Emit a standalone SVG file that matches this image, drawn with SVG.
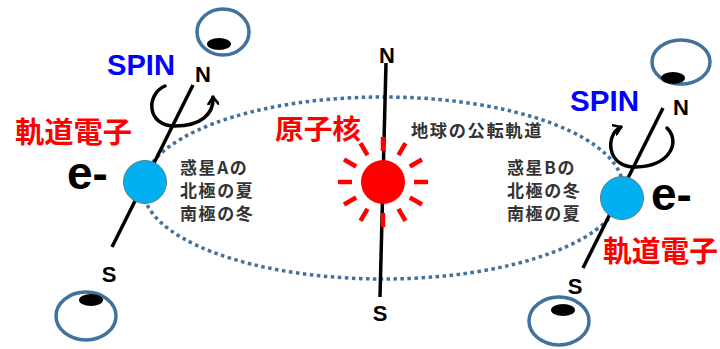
<svg xmlns="http://www.w3.org/2000/svg" width="720" height="349" viewBox="0 0 720 349">
  <defs>
    <style>
      .orbit { fill: none; stroke: #41719C; stroke-width: 3.5; stroke-dasharray: 3.5 3.5; }
      .axis { stroke: #000; stroke-width: 3.5; stroke-linecap: butt; }
      .eye { fill: none; stroke: #41719C; stroke-width: 3.5; }
      .pupil { fill: #000; }
      .planet { fill: #00B0F0; stroke: #5B7F95; stroke-width: 1; }
      .ray { stroke: #FF0000; stroke-width: 4.5; }
      .spin { fill: none; stroke: #000; stroke-width: 3.5; stroke-linecap: round; }
      .pole { font-family: "Liberation Sans", Arial, sans-serif; font-weight: bold; font-size: 22px; fill: #000; }
      .spinlbl { font-family: "Liberation Sans", Arial, sans-serif; font-weight: bold; font-size: 30px; fill: #0000FF; }
      .elec { font-family: "Liberation Sans", Arial, sans-serif; font-weight: bold; font-size: 46px; fill: #000; }
      .red { font-family: "Noto Sans CJK JP", sans-serif; font-weight: bold; fill: #FF0000; }
      .note { font-family: "Noto Sans CJK JP", sans-serif; font-weight: bold; font-size: 17px; letter-spacing: 1.6px; fill: #333; }
    </style>
    <marker id="openArrow" viewBox="0 0 12 12" refX="8" refY="6" markerWidth="12" markerHeight="12" markerUnits="userSpaceOnUse" orient="auto">
      <path d="M1,1 L8,6 L1,11" fill="none" stroke="#000" stroke-width="2.6" stroke-linecap="round" stroke-linejoin="round"/>
    </marker>
  </defs>

  <!-- orbit path and rotation axes -->
  <g id="connectors">
    <ellipse class="orbit" cx="383" cy="188" rx="240" ry="91"/>
    <line class="axis" x1="193" y1="85" x2="112" y2="247"/>
    <line class="axis" x1="386" y1="63" x2="380" y2="297"/>
    <line class="axis" x1="663" y1="108" x2="583" y2="268"/>
  </g>

  <!-- nucleus (sun) -->
  <g id="nucleus">
    <g transform="translate(383,182)">
      <line class="ray" x1="31" y1="0" x2="45" y2="0"/>
      <line class="ray" x1="31" y1="0" x2="45" y2="0" transform="rotate(30)"/>
      <line class="ray" x1="31" y1="0" x2="45" y2="0" transform="rotate(60)"/>
      <line class="ray" x1="31" y1="0" x2="45" y2="0" transform="rotate(90)"/>
      <line class="ray" x1="31" y1="0" x2="45" y2="0" transform="rotate(120)"/>
      <line class="ray" x1="31" y1="0" x2="45" y2="0" transform="rotate(150)"/>
      <line class="ray" x1="31" y1="0" x2="45" y2="0" transform="rotate(180)"/>
      <line class="ray" x1="31" y1="0" x2="45" y2="0" transform="rotate(210)"/>
      <line class="ray" x1="31" y1="0" x2="45" y2="0" transform="rotate(240)"/>
      <line class="ray" x1="31" y1="0" x2="45" y2="0" transform="rotate(270)"/>
      <line class="ray" x1="31" y1="0" x2="45" y2="0" transform="rotate(300)"/>
      <line class="ray" x1="31" y1="0" x2="45" y2="0" transform="rotate(330)"/>
      <circle r="22" fill="#FF0000"/>
    </g>
    <text class="pole" x="387" y="63" text-anchor="middle">N</text>
    <text class="pole" x="380" y="321" text-anchor="middle">S</text>
    <text class="red" x="275" y="139" font-size="27" textLength="86" lengthAdjust="spacingAndGlyphs">原子核</text>
  </g>

  <text class="note" x="411" y="137" textLength="132" lengthAdjust="spacingAndGlyphs">地球の公転軌道</text>

  <!-- planet A (left electron) -->
  <g id="planetA">
    <circle class="planet" cx="145" cy="182" r="21.5"/>
    <path class="spin" d="M165,86 C146,94 146,126 175,126 C201,126 214,114 213,97" marker-end="url(#openArrow)"/>
    <text class="pole" x="203" y="82" text-anchor="middle">N</text>
    <text class="pole" x="109" y="282" text-anchor="middle">S</text>
    <text class="spinlbl" x="107" y="75" textLength="68" lengthAdjust="spacingAndGlyphs">SPIN</text>
    <text class="red" x="15" y="143" font-size="29" textLength="117" lengthAdjust="spacingAndGlyphs">軌道電子</text>
    <text class="elec" x="67" y="189">e-</text>
    <text class="note"><tspan x="180" y="174">惑星Aの</tspan><tspan x="180" y="197">北極の夏</tspan><tspan x="180" y="220">南極の冬</tspan></text>
  </g>

  <!-- planet B (right electron) -->
  <g id="planetB">
    <circle class="planet" cx="622" cy="198" r="21.5"/>
    <path class="spin" d="M667,128 C681,142 670,166 636,167 C606,168 605,134 621,127" marker-end="url(#openArrow)"/>
    <text class="pole" x="681" y="115" text-anchor="middle">N</text>
    <text class="pole" x="575" y="294" text-anchor="middle">S</text>
    <text class="spinlbl" x="570" y="111" textLength="69" lengthAdjust="spacingAndGlyphs">SPIN</text>
    <text class="red" x="603" y="262" font-size="29" textLength="115" lengthAdjust="spacingAndGlyphs">軌道電子</text>
    <text class="elec" x="651" y="210">e-</text>
    <text class="note"><tspan x="507" y="174">惑星Bの</tspan><tspan x="507" y="197">北極の冬</tspan><tspan x="507" y="220">南極の夏</tspan></text>
  </g>

  <!-- observer eyes -->
  <g id="eyeTopLeft">
    <ellipse class="eye" cx="223" cy="32" rx="26" ry="23"/>
    <ellipse class="pupil" cx="219" cy="44" rx="12" ry="6"/>
  </g>
  <g id="eyeBottomLeft">
    <ellipse class="eye" cx="86" cy="316" rx="30" ry="24"/>
    <ellipse class="pupil" cx="91" cy="300" rx="12" ry="6"/>
  </g>
  <g id="eyeTopRight">
    <ellipse class="eye" cx="681" cy="62" rx="29" ry="22"/>
    <ellipse class="pupil" cx="673" cy="78" rx="12" ry="6"/>
  </g>
  <g id="eyeBottomRight">
    <ellipse class="eye" cx="559" cy="321" rx="30" ry="24"/>
    <ellipse class="pupil" cx="563" cy="310" rx="12" ry="6"/>
  </g>
</svg>
